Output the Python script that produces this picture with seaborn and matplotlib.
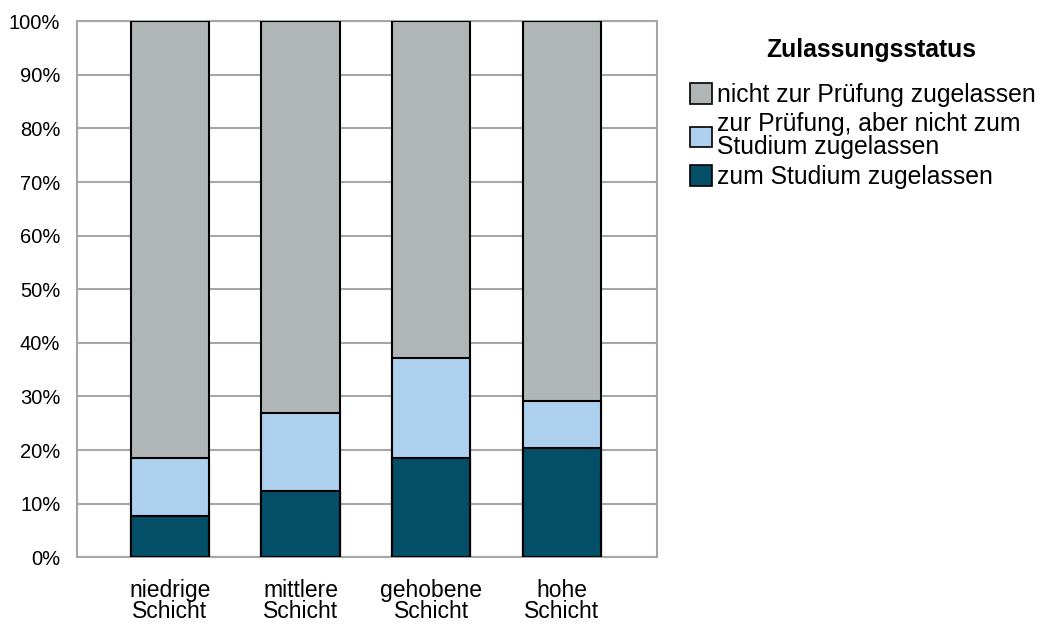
import matplotlib
matplotlib.use("Agg")
import matplotlib.pyplot as plt
import seaborn as sns
import pandas as pd
import numpy as np
from matplotlib.patches import Patch
from matplotlib.ticker import FuncFormatter

categories = ["niedrige\nSchicht", "mittlere\nSchicht", "gehobene\nSchicht", "hohe\nSchicht"]
zum_studium = [7.6, 12.4, 18.5, 20.4]
pruefung_nicht_studium = [11.0, 14.5, 18.7, 8.8]
nicht_pruefung = [100 - a - b for a, b in zip(zum_studium, pruefung_nicht_studium)]

series_labels = ["nicht zur Prüfung zugelassen",
                 "zur Prüfung, aber nicht zum\nStudium zugelassen",
                 "zum Studium zugelassen"]
colors = ["#B0B5B5", "#ADD0EE", "#034F68"]
legend_title = "Zulassungsstatus"

sns.set_style("white")
plt.rcParams["font.family"] = ["Liberation Sans", "DejaVu Sans"]
plt.rcParams["text.color"] = "black"
plt.rcParams["xtick.labelcolor"] = "black"
plt.rcParams["ytick.labelcolor"] = "black"

fig = plt.figure(figsize=(10.4, 6.24), dpi=100)
ax = fig.add_axes([0.074, 0.107, 0.558, 0.859])

low = np.array(zum_studium)
mid = low + np.array(pruefung_nicht_studium)
top = mid + np.array(nicht_pruefung)

df = pd.DataFrame({"cat": categories, "top": top, "mid": mid, "low": low})
for col, c in zip(["top", "mid", "low"], colors):
    sns.barplot(data=df, x="cat", y=col, color=c, width=0.6, edgecolor="black",
                linewidth=1.5, saturation=1, ax=ax, zorder=3)

ax.set_ylim(0, 100)
ax.set_xlim(-0.71, 3.73)
ax.set_yticks(np.arange(0, 101, 10))
ax.yaxis.set_major_formatter(FuncFormatter(lambda v, p: f"{int(v)}%"))
ax.grid(axis="y", color="#A6A6A6", linewidth=1.5, zorder=0)
ax.set_axisbelow(True)
for s in ax.spines.values():
    s.set_color("#A6A6A6")
    s.set_linewidth(1.5)
ax.tick_params(axis="y", length=10, width=1.5, color="#A6A6A6", labelsize=14.5, pad=2)
ax.tick_params(axis="x", length=10, width=1.5, color="#A6A6A6", labelsize=16.5, pad=5.5)
for lab in ax.get_xticklabels():
    lab.set_linespacing(0.92)
ax.set_xlabel("")
ax.set_ylabel("")

handles = [Patch(facecolor=c, edgecolor="black", linewidth=1.2) for c in colors]
leg = fig.legend(handles, series_labels, loc="upper left", bbox_to_anchor=(0.663, 0.867),
                 frameon=False, fontsize=17.8,
                 handlelength=0.9, handleheight=0.9, handletextpad=0.22,
                 labelspacing=0.22, borderaxespad=0, borderpad=0)
for t in leg.get_texts():
    t.set_linespacing(0.95)
fig.text(0.8375, 0.92, legend_title, ha="center", va="center",
         fontsize=17.8, fontweight="bold")

fig.savefig("out.png", dpi=100)
